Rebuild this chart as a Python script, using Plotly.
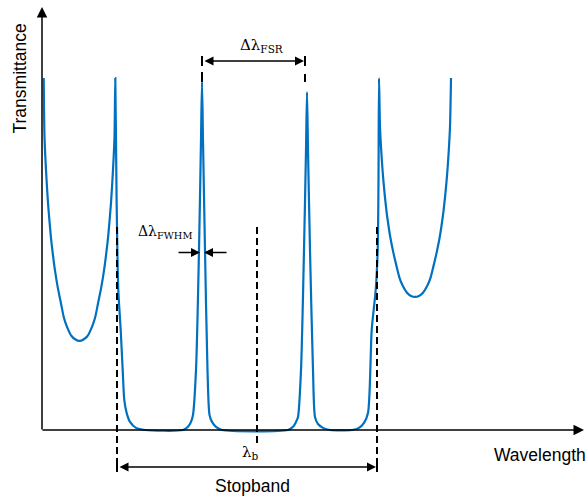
import plotly.graph_objects as go

# Schematic transmittance spectrum (wavelength in arbitrary units, transmittance normalised)
wavelength = [1.7, 2.5, 4.0, 6.0, 8.9, 10.7, 12.9, 15.7, 18.9, 22.0, 25.0, 29.5, 33.5, 37.5,
              41.5, 45.5, 50.0, 53.0, 56.1, 59.3, 62.1, 64.3, 66.1, 69.0, 71.0, 72.5, 73.3,
              74.6, 76.3, 78.7, 80.7, 82.3, 84.7, 88.0, 94.0, 103.0, 141.0, 146.0, 149.0, 151.0,
              154.0, 157.0, 159.0, 160.0, 161.0, 163.0, 165.5, 167.5, 170.0, 174.0, 180.0,
              246.0, 251.0, 254.0, 256.0, 259.0, 262.0, 264.0, 265.0, 266.0, 268.0, 271.0, 273.0,
              276.0, 281.0, 288.0, 310.0, 317.0, 322.0, 326.0, 329.7, 333.7, 335.7, 336.5, 337.0,
              338.0, 339.5, 341.5, 344.4, 346.2, 348.4, 351.2, 354.4, 357.5, 360.5, 365.0, 369.0,
              373.0, 377.0, 381.0, 385.5, 388.5, 391.6, 394.8, 397.6, 399.8, 401.6, 404.5, 406.5,
              408.0, 409.0]
transmittance = [1.000, 0.832, 0.739, 0.645, 0.548, 0.503, 0.455, 0.406, 0.361, 0.318, 0.293,
                 0.267, 0.257, 0.253, 0.257, 0.267, 0.293, 0.318, 0.361, 0.406, 0.455, 0.503,
                 0.548, 0.645, 0.739, 0.832, 1.000,
                 0.653, 0.398, 0.284, 0.170, 0.085, 0.048, 0.023, 0.006, 0.000, 0.000, 0.009,
                 0.023, 0.043, 0.170, 0.511, 0.824, 0.989, 0.824, 0.511, 0.170, 0.043, 0.023,
                 0.009, 0.000,
                 0.000, 0.009, 0.023, 0.037, 0.170, 0.511, 0.795, 0.960, 0.795, 0.511, 0.170,
                 0.037, 0.017, 0.006, 0.000, 0.000, 0.006, 0.020, 0.048, 0.284, 0.398, 0.511,
                 0.710, 1.000,
                 0.861, 0.782, 0.705, 0.624, 0.586, 0.546, 0.506, 0.467, 0.432, 0.411, 0.390,
                 0.381, 0.378, 0.381, 0.390, 0.411, 0.432, 0.467, 0.506, 0.546, 0.586, 0.624,
                 0.705, 0.782, 0.861, 1.000]

stopband_edges = [75.0, 335.0]
bragg_wavelength = 215.0
fsr_peaks = [160.0, 263.0]
fwhm_peak = 160.0

# geometry helpers (pixel -> data) for annotation placement
X0, Y0, YS = 42.0, 430.0, 352.0
def dx(px):
    return px - X0
def dy(py):
    return (Y0 - py) / YS

BLUE = "#0070C0"
BLACK = "#000000"
SANS = "Liberation Sans, Arial, sans-serif"
SERIF = "DejaVu Serif, serif"

fig = go.Figure()
fig.add_trace(go.Scatter(x=wavelength, y=transmittance, mode="lines",
                         line=dict(color=BLUE, width=2.2, shape="spline", smoothing=0.7),
                         hoverinfo="skip", showlegend=False))

shapes = []
def vline(x, py1, py2, dash=None, width=2):
    shapes.append(dict(type="line", xref="x", yref="y", x0=x, x1=x, y0=dy(py1), y1=dy(py2),
                       line=dict(color=BLACK, width=width, dash=dash)))

# dashed guides
for e in stopband_edges:
    vline(e, 227, 472, dash="7px,4px")
vline(bragg_wavelength, 227, 443, dash="7px,4px")
# stopband end bars
for e in stopband_edges:
    vline(e, 462, 472, width=2)
# FSR end bars and connectors
for p in fsr_peaks:
    vline(p, 56, 66, width=2)
vline(fsr_peaks[0], 72, 82, width=2)
vline(fsr_peaks[1], 74, 82, width=2)

annotations = []
def arrow(x, y, ax, ay, both=False, width=1.5, size=1.3):
    annotations.append(dict(x=x, y=y, ax=ax, ay=ay, xref="x", yref="y", axref="x", ayref="y",
                            text="", showarrow=True, arrowhead=2, arrowsize=size,
                            arrowwidth=width, arrowcolor=BLACK, standoff=0, startstandoff=0,
                            arrowside="end+start" if both else "end",
                            startarrowhead=2, startarrowsize=size))

# axes
arrow(dx(584), 0, dx(41), 0, width=1.5, size=1.4)
arrow(0, dy(7), 0, dy(431), width=1.5, size=1.4)
# stopband
arrow(stopband_edges[1] - 1, dy(467), stopband_edges[0] + 1, dy(467), both=True, width=1.5, size=1.2)
# FSR
arrow(fsr_peaks[1] - 1, dy(61), fsr_peaks[0] + 1, dy(61), both=True, width=1.5, size=1.2)
# FWHM
arrow(fwhm_peak - 2, dy(252.5), dx(177), dy(252.5), width=1.5, size=1.2)
arrow(fwhm_peak + 2, dy(252.5), dx(228), dy(252.5), width=1.5, size=1.2)

def label(text, px, py, font, size, angle=0):
    annotations.append(dict(x=dx(px), y=dy(py), xref="x", yref="y", text=text, showarrow=False,
                            textangle=angle, font=dict(family=font, size=size, color=BLACK),
                            xanchor="center", yanchor="middle"))

label("Transmittance", 19.5, 79, SANS, 17.5, angle=-90)
label("Wavelength", 540, 455, SANS, 17.5)
label("Stopband", 252.5, 486, SANS, 17.5)
label("Δλ<sub>FSR</sub>", 262, 45, SERIF, 15)
label("Δλ<sub>FWHM</sub>", 164.5, 232, SERIF, 14)
label("λ<sub>b</sub>", 250.5, 452, SERIF, 15)

fig.update_layout(
    width=587, height=500, margin=dict(l=0, r=0, t=0, b=0),
    paper_bgcolor="white", plot_bgcolor="white",
    xaxis=dict(range=[dx(0), dx(587)], visible=False, fixedrange=True),
    yaxis=dict(range=[dy(500), dy(0)], visible=False, fixedrange=True),
    shapes=shapes, annotations=annotations, showlegend=False,
)
fig.write_html("out.html")
